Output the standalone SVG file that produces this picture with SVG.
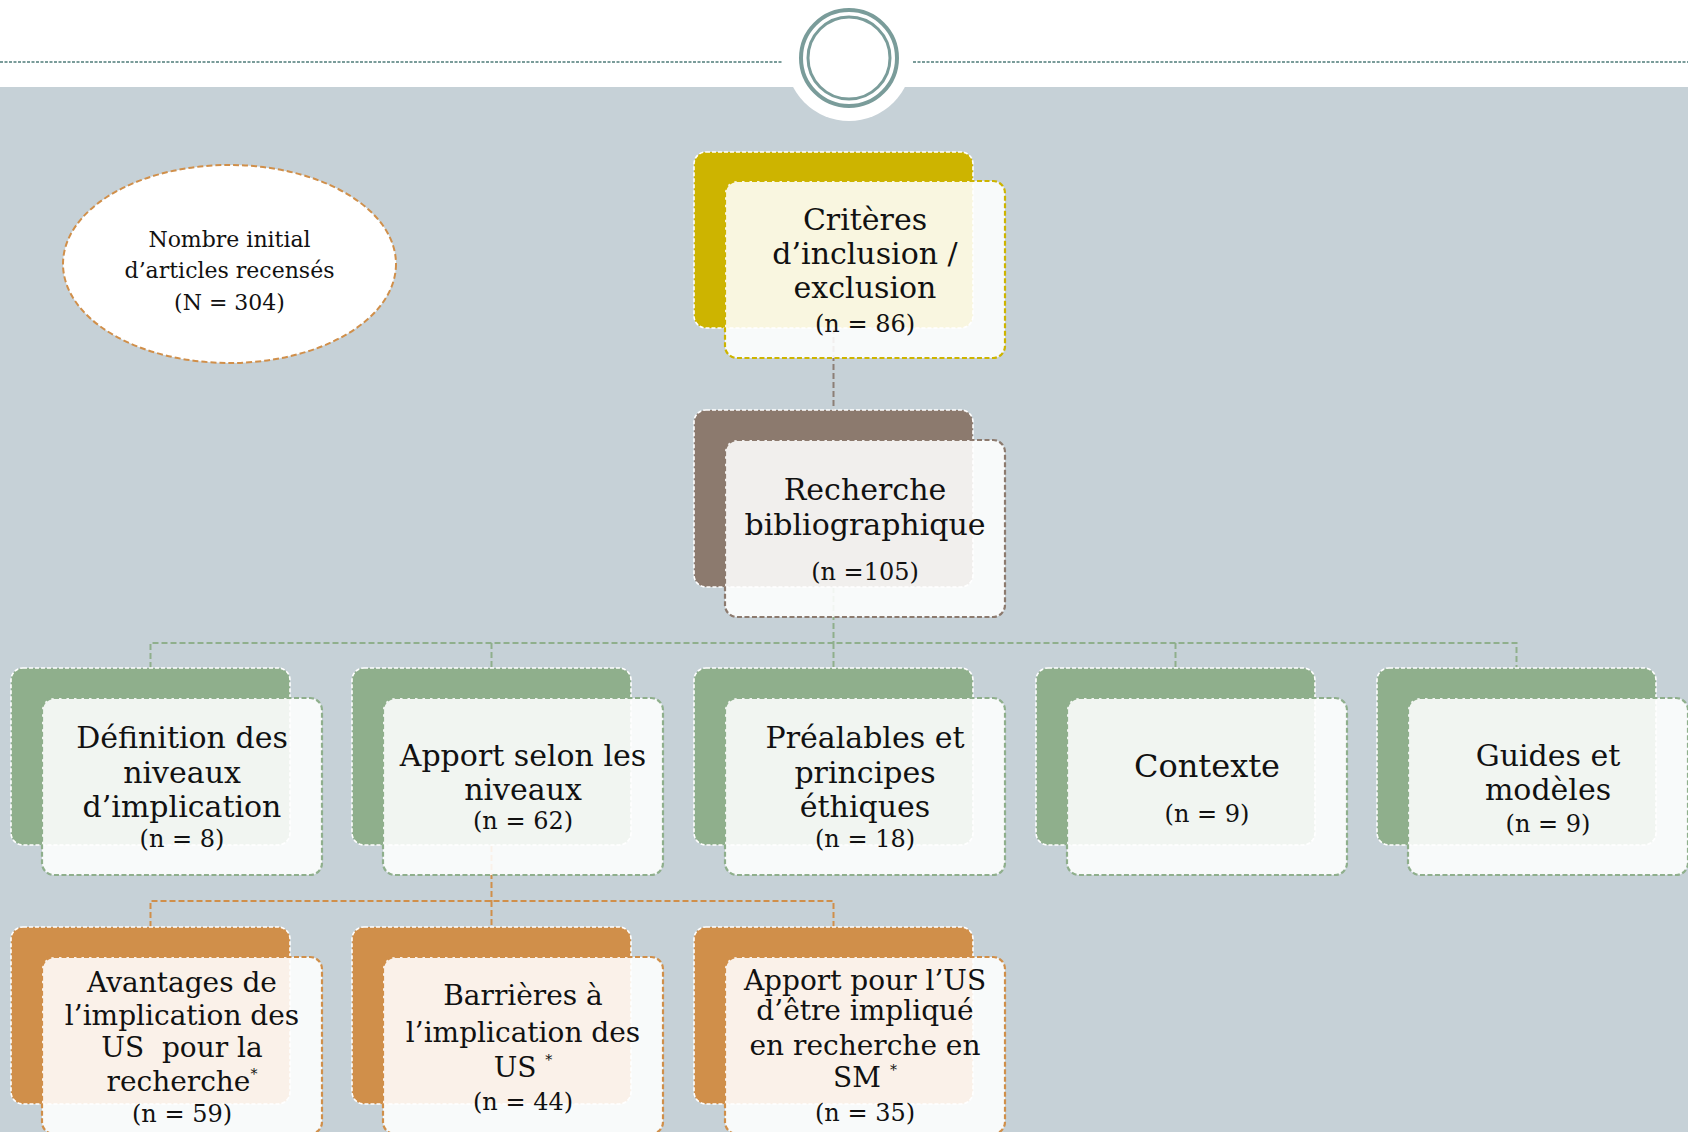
<svg xmlns="http://www.w3.org/2000/svg" width="1688" height="1132" viewBox="0 0 1688 1132">
<style>
text{font-family:"DejaVu Serif","Liberation Serif",serif;fill:#111;text-anchor:middle}
.t32{font-size:32px}
.t30{font-size:30px}
.t28{font-size:28px}
.t24{font-size:24px}
.t22{font-size:22px}
.pre{white-space:pre}
.sup{font-size:14px}
.back{stroke:#fff;stroke-width:1.6;stroke-dasharray:4 2}
.front{fill:#fff;fill-opacity:0.88;stroke-width:2.2;stroke-dasharray:5 2.5}
.gold{fill:#CDB400}
.brown{fill:#8C7A6E}
.green{fill:#8FAF8C}
.orange{fill:#D08F4A}
.fgold{stroke:#CDB400}
.fbrown{stroke:#8C7A6E}
.fgreen{stroke:#8FAF8C}
.forange{stroke:#D08F4A}
.conn{fill:none;stroke-width:2;stroke-dasharray:6 3}
</style>
<rect x="0" y="0" width="1688" height="1132" fill="#fff"/>
<rect x="0" y="87" width="1688" height="1045" fill="#C6D1D7"/>
<g id="header">
<circle cx="849" cy="58" r="63" fill="#fff"/>
<line x1="0" y1="62" x2="783" y2="62" stroke="#7A9C9A" stroke-width="2" stroke-dasharray="3 1.5"/>
<line x1="913" y1="62" x2="1688" y2="62" stroke="#7A9C9A" stroke-width="2" stroke-dasharray="3 1.5"/>
<circle cx="849" cy="58" r="48" fill="#fff" stroke="#7A9C9A" stroke-width="4"/>
<circle cx="849" cy="58" r="41" fill="none" stroke="#7A9C9A" stroke-width="3"/>
</g>
<g id="connectors">
<path class="conn" stroke="#8C7F76" d="M833.5 328 V410"/>
<path class="conn" stroke="#8FAF8C" d="M833.5 587 V643 M150.5 668 V643 H1516.5 V668 M491.5 643 V668 M833.5 643 V668 M1175.5 643 V668"/>
<path class="conn" stroke="#D08F4A" d="M491.5 846 V901 M150.5 927 V901 H833.5 V927 M491.5 901 V927"/>
</g>
<g id="node-initial">
<ellipse cx="229.5" cy="264" rx="166.5" ry="99" fill="#fff" stroke="#D08F4A" stroke-width="2" stroke-dasharray="6 3"/>
<text class="t22" x="229.5" y="247">Nombre initial</text>
<text class="t22" x="229.5" y="278">d’articles recensés</text>
<text class="t22" x="229.5" y="310">(N = 304)</text>
</g>
<g id="node-criteres">
<rect class="back gold" x="694" y="152" width="279" height="176" rx="12"/>
<rect class="front fgold" x="725" y="181" width="280" height="177" rx="12"/>
<text class="t30" x="865" y="230">Critères</text>
<text class="t30" x="865" y="264">d’inclusion /</text>
<text class="t30" x="865" y="298">exclusion</text>
<text class="t24" x="865" y="332">(n = 86)</text>
</g>
<g id="node-recherche">
<rect class="back brown" x="694" y="410" width="279" height="177" rx="12"/>
<rect class="front fbrown" x="725" y="440" width="280" height="177" rx="12"/>
<text class="t30" x="865" y="500">Recherche</text>
<text class="t30" x="865" y="535">bibliographique</text>
<text class="t24" x="865" y="580">(n =105)</text>
</g>
<g id="node-definition">
<rect class="back green" x="11" y="668" width="279" height="177" rx="12"/>
<rect class="front fgreen" x="42" y="698" width="280" height="177" rx="12"/>
<text class="t30" x="182" y="748">Définition des</text>
<text class="t30" x="182" y="783">niveaux</text>
<text class="t30" x="182" y="817">d’implication</text>
<text class="t24" x="182" y="847">(n = 8)</text>
</g>
<g id="node-apport-niveaux">
<rect class="back green" x="352" y="668" width="279" height="177" rx="12"/>
<rect class="front fgreen" x="383" y="698" width="280" height="177" rx="12"/>
<text class="t30" x="523" y="766">Apport selon les</text>
<text class="t30" x="523" y="800">niveaux</text>
<text class="t24" x="523" y="829">(n = 62)</text>
</g>
<g id="node-prealables">
<rect class="back green" x="694" y="668" width="279" height="177" rx="12"/>
<rect class="front fgreen" x="725" y="698" width="280" height="177" rx="12"/>
<text class="t30" x="865" y="748">Préalables et</text>
<text class="t30" x="865" y="783">principes</text>
<text class="t30" x="865" y="817">éthiques</text>
<text class="t24" x="865" y="847">(n = 18)</text>
</g>
<g id="node-contexte">
<rect class="back green" x="1036" y="668" width="279" height="177" rx="12"/>
<rect class="front fgreen" x="1067" y="698" width="280" height="177" rx="12"/>
<text class="t32" x="1207" y="777">Contexte</text>
<text class="t24" x="1207" y="822">(n = 9)</text>
</g>
<g id="node-guides">
<rect class="back green" x="1377" y="668" width="279" height="177" rx="12"/>
<rect class="front fgreen" x="1408" y="698" width="280" height="177" rx="12"/>
<text class="t30" x="1548" y="766">Guides et</text>
<text class="t30" x="1548" y="800">modèles</text>
<text class="t24" x="1548" y="832">(n = 9)</text>
</g>
<g id="node-avantages">
<rect class="back orange" x="11" y="927" width="279" height="177" rx="12"/>
<rect class="front forange" x="42" y="957" width="280" height="177" rx="12"/>
<text class="t28" x="182" y="992">Avantages de</text>
<text class="t28" x="182" y="1025">l’implication des</text>
<text class="t28 pre" x="182" y="1057">US  pour la</text>
<text class="t28" x="182" y="1091">recherche<tspan class="sup" dy="-12">*</tspan></text>
<text class="t24" x="182" y="1122">(n = 59)</text>
</g>
<g id="node-barrieres">
<rect class="back orange" x="352" y="927" width="279" height="177" rx="12"/>
<rect class="front forange" x="383" y="957" width="280" height="177" rx="12"/>
<text class="t28" x="523" y="1005">Barrières à</text>
<text class="t28" x="523" y="1042">l’implication des</text>
<text class="t28" x="523" y="1077">US <tspan class="sup" dy="-12">*</tspan></text>
<text class="t24" x="523" y="1110">(n = 44)</text>
</g>
<g id="node-apport-us">
<rect class="back orange" x="694" y="927" width="279" height="177" rx="12"/>
<rect class="front forange" x="725" y="957" width="280" height="177" rx="12"/>
<text class="t28" x="865" y="990">Apport pour l’US</text>
<text class="t28" x="865" y="1020">d’être impliqué</text>
<text class="t28" x="865" y="1055">en recherche en</text>
<text class="t28" x="865" y="1087">SM <tspan class="sup" dy="-12">*</tspan></text>
<text class="t24" x="865" y="1121">(n = 35)</text>
</g>
</svg>
